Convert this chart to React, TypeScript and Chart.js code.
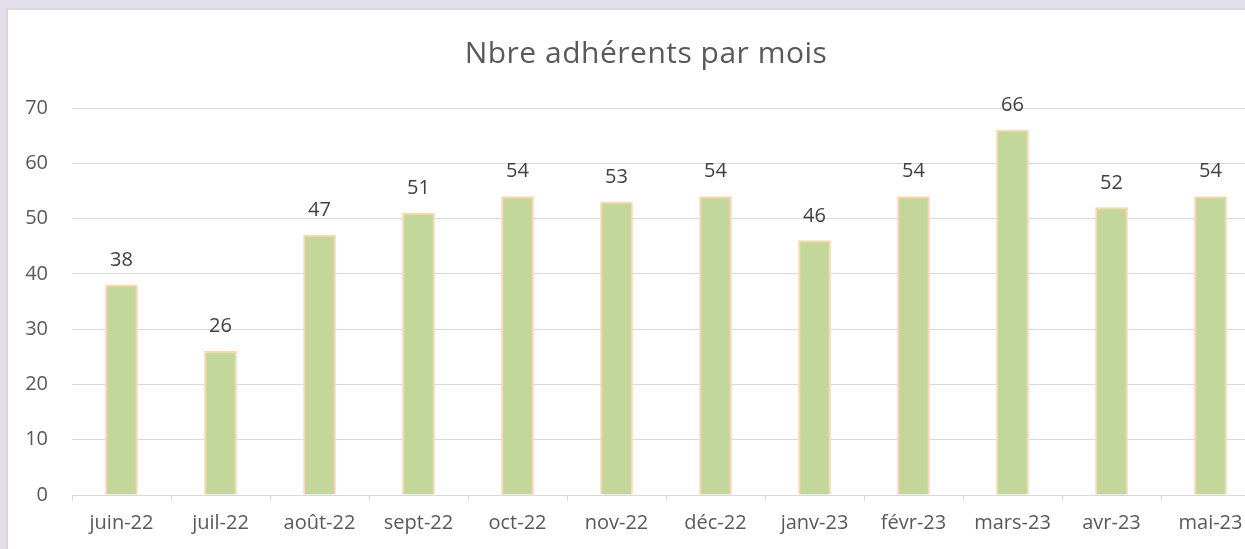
import React, { useEffect, useRef } from "react";
import { Chart, registerables } from "chart.js";

Chart.register(...registerables);

const TITLE = "Nbre adhérents par mois";
const categories = ["juin-22", "juil-22", "août-22", "sept-22", "oct-22", "nov-22", "déc-22", "janv-23", "févr-23", "mars-23", "avr-23", "mai-23"];
const adherents = [38, 26, 47, 51, 54, 53, 54, 46, 54, 66, 52, 54];
const yMin = 0;
const yMax = 70;
const yStep = 10;

const FONT = "'Open Sans', 'DejaVu Sans', sans-serif";

const labelsPlugin = {
  id: "barLabels",
  afterDatasetsDraw(chart: any) {
    const ctx = chart.ctx;
    ctx.save();
    ctx.font = `20px ${FONT}`;
    ctx.fillStyle = "#404040";
    ctx.textAlign = "center";
    ctx.textBaseline = "alphabetic";
    const meta = chart.getDatasetMeta(0);
    meta.data.forEach((el: any, i: number) => {
      ctx.fillText(String(adherents[i]), el.x, el.y - 19);
    });
    ctx.restore();
  },
};

const titlePlugin = {
  id: "customTitle",
  afterDraw(chart: any) {
    const ctx = chart.ctx;
    ctx.save();
    ctx.font = `30px ${FONT}`;
    (ctx as any).letterSpacing = "0.5px";
    ctx.fillStyle = "#595959";
    ctx.textAlign = "center";
    ctx.textBaseline = "alphabetic";
    ctx.fillText(TITLE, 638, 53);
    ctx.restore();
  },
};

export default function App() {
  const ref = useRef<HTMLCanvasElement>(null);
  useEffect(() => {
    if (!ref.current) return;
    const chart = new Chart(ref.current, {
      type: "bar",
      data: {
        labels: categories,
        datasets: [
          {
            data: adherents,
            backgroundColor: "#c4d79b",
            borderColor: "#fcd5b4",
            borderWidth: 2,
            barThickness: 32,
          },
        ],
      },
      options: {
        responsive: false,
        animation: false,
        devicePixelRatio: 1,
        layout: { padding: { top: 98, left: 0, right: 0, bottom: 0 } },
        plugins: { legend: { display: false }, tooltip: { enabled: false }, title: { display: false } },
        scales: {
          x: {
            grid: {
              display: true,
              offset: true,
              drawOnChartArea: false,
              drawTicks: true,
              tickLength: 6,
              color: "#d9d9d9",
            },
            border: { display: true, color: "#d9d9d9", width: 1 },
            ticks: { color: "#595959", font: { family: FONT, size: 20 }, padding: 10, maxRotation: 0, autoSkip: false },
            afterFit(s: any) { s.height = 55; },
          },
          y: {
            min: yMin,
            max: yMax,
            ticks: { stepSize: yStep, color: "#595959", font: { family: FONT, size: 20 }, padding: 24 },
            grid: { color: "#d9d9d9", drawTicks: false },
            border: { display: false },
            afterFit(s: any) { s.width = 64; },
          },
        },
      },
      plugins: [labelsPlugin, titlePlugin],
    });
    return () => chart.destroy();
  }, []);
  return (
    <div style={{ position: "fixed", left: 0, top: 0, width: 1245, height: 549, background: "#e4dfec", overflow: "hidden" }}>
      <div style={{ position: "absolute", left: 6, top: 8, width: 1300, height: 600, background: "#ffffff", border: "2px solid #d9d9d9" }}>
        <canvas ref={ref} width={1252} height={540} style={{ display: "block" }} />
      </div>
    </div>
  );
}
